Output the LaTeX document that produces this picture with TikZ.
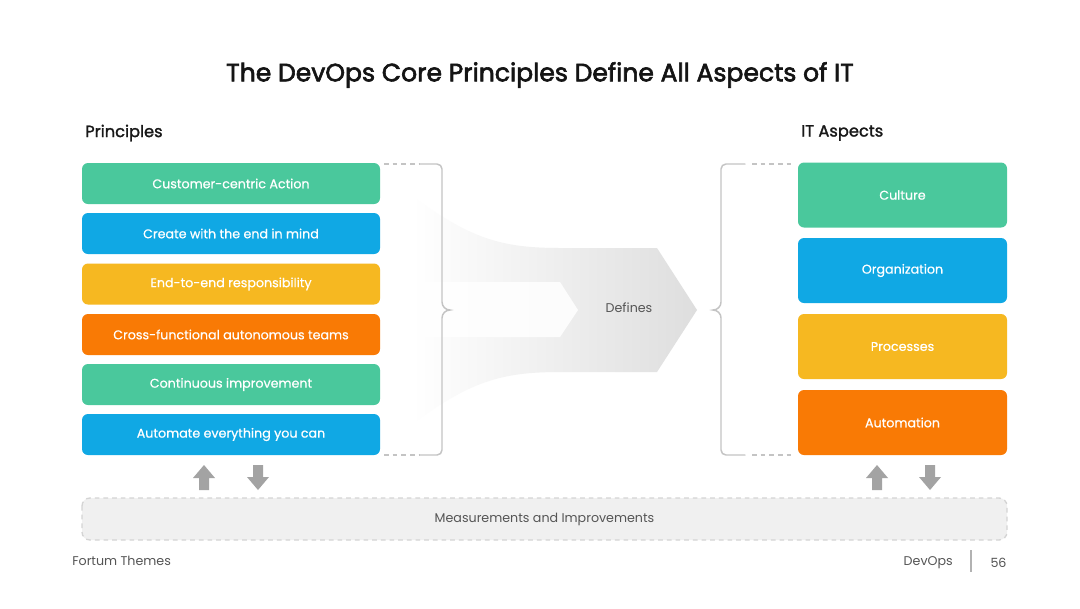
\documentclass[tikz,border=0pt]{standalone}
\usepackage{fontspec}
\setmainfont{Poppins}
\newfontfamily\pmed[FakeBold=1.6]{Poppins}
\newfontfamily\ptitle[FakeBold=2.4]{Poppins}
\newfontfamily\plight[FakeBold=0.6]{Poppins}
\usetikzlibrary{shapes.geometric}
\definecolor{cgreen}{HTML}{4AC89C}
\definecolor{cblue}{HTML}{10A8E4}
\definecolor{cyellow}{HTML}{F6B821}
\definecolor{corange}{HTML}{F97A05}
\definecolor{bracegray}{HTML}{C4C4C4}
\definecolor{arrowgray}{HTML}{A3A3A3}
\definecolor{txtgray}{HTML}{555555}
\tikzset{
  pbox/.style={rounded corners=4.5pt, minimum width=223.5pt, minimum height=30.75pt, text=white, font=\plight\fontsize{9.5}{11}\selectfont, inner sep=0pt},
  abox/.style={rounded corners=4.5pt, minimum width=156.75pt, minimum height=48.75pt, text=white, font=\plight\fontsize{9.5}{11}\selectfont, inner sep=0pt},
  bracel/.style={draw=bracegray, line width=1.1pt, line cap=round},
  dashl/.style={draw=bracegray, line width=1.1pt, dash pattern=on 3.5pt off 3pt},
  head/.style={font=\pmed\fontsize{12.2}{14}\selectfont, text=black!90, inner sep=0pt},
  foot/.style={font=\fontsize{9.5}{11}\selectfont, text=txtgray, inner sep=0pt},
}
\begin{document}
\begin{tikzpicture}[x=0.75pt, y=-0.75pt]
\useasboundingbox (0,0) rectangle (1080,608);
\fill[white] (0,0) rectangle (1080,608);

% title
\node[font=\ptitle\fontsize{18.8}{21}\selectfont, text=black!92] (title) at (540,75) {The DevOps Core Principles Define All Aspects of IT};
\node[head, anchor=west] (hp) at (85,133) {Principles};
\node[head, anchor=west] (ha) at (801,133) {IT Aspects};

% big arrow shape
\shade[left color=white, right color=black!13, shading angle=90]
  (412,196) .. controls (470,238) and (500,248) .. (560,248) -- (657,248) -- (697,310) -- (657,372) -- (560,372) .. controls (500,372) and (470,382) .. (412,424) -- cycle;
\fill[white, opacity=0.85] (400,282) -- (560,282) -- (578,310) -- (560,337) -- (400,337) -- cycle;
\node[font=\fontsize{9.5}{11}\selectfont, text=txtgray] (def) at (629,308) {Defines};

% left boxes
\node[pbox, fill=cgreen] (p1) at (231,183.5) {Customer-centric Action};
\node[pbox, fill=cblue] (p2) at (231,233.5) {Create with the end in mind};
\node[pbox, fill=cyellow] (p3) at (231,284) {End-to-end responsibility};
\node[pbox, fill=corange] (p4) at (231,334.5) {Cross-functional autonomous teams};
\node[pbox, fill=cgreen] (p5) at (231,384.5) {Continuous improvement};
\node[pbox, fill=cblue] (p6) at (231,434.5) {Automate everything you can};

% right boxes
\node[abox, fill=cgreen] (a1) at (902.5,195) {Culture};
\node[abox, fill=cblue] (a2) at (902.5,270.5) {Organization};
\node[abox, fill=cyellow] (a3) at (902.5,346.5) {Processes};
\node[abox, fill=corange] (a4) at (902.5,422.5) {Automation};

% left brace
\coordinate (lbt) at (420,164);
\coordinate (lbb) at (420,455);
\draw[dashl] (384,164) -- (lbt);
\draw[dashl] (384,455) -- (lbb);
\draw[bracel] (lbt) -- (437,164) to[out=0,in=90] (442,169) -- (442,302) to[out=-90,in=180] (450,310) to[out=180,in=90] (442,318) -- (442,450) to[out=-90,in=0] (437,455) -- (lbb);

% right brace
\coordinate (rbt) at (745,164);
\coordinate (rbb) at (745,455);
\draw[dashl] (752,164) -- (795,164);
\draw[dashl] (752,455) -- (795,455);
\draw[bracel] (rbt) -- (726,164) to[out=180,in=90] (721,169) -- (721,302) to[out=-90,in=0] (713,310) to[out=0,in=90] (721,318) -- (721,450) to[out=-90,in=180] (726,455) -- (rbb);

% up/down arrows
\foreach \cx in {204,877} {
  \fill[arrowgray] (\cx,465) -- (\cx+11,478) -- (\cx+5,478) -- (\cx+5,490) -- (\cx-5,490) -- (\cx-5,478) -- (\cx-11,478) -- cycle;
}
\foreach \cx in {258,930} {
  \fill[arrowgray] (\cx,490) -- (\cx+11,477) -- (\cx+5,477) -- (\cx+5,465) -- (\cx-5,465) -- (\cx-5,477) -- (\cx-11,477) -- cycle;
}

% measurement bar
\draw[fill=black!6, draw=black!17, line width=1pt, dash pattern=on 3.5pt off 3pt, rounded corners=6pt] (82,498) rectangle (1007,540);
\node[font=\fontsize{9.5}{11}\selectfont, text=txtgray] (meas) at (544.5,519) {Measurements and Improvements};

% footer
\node[foot, anchor=base west] (ft) at (72,565) {Fortum Themes};
\node[foot, anchor=base east] (fd) at (953,565) {DevOps};
\draw[black!30, line width=0.8pt] (971,550) -- (971,572);
\node[foot, anchor=base] (fn) at (998.5,567) {56};
\end{tikzpicture}
\end{document}
